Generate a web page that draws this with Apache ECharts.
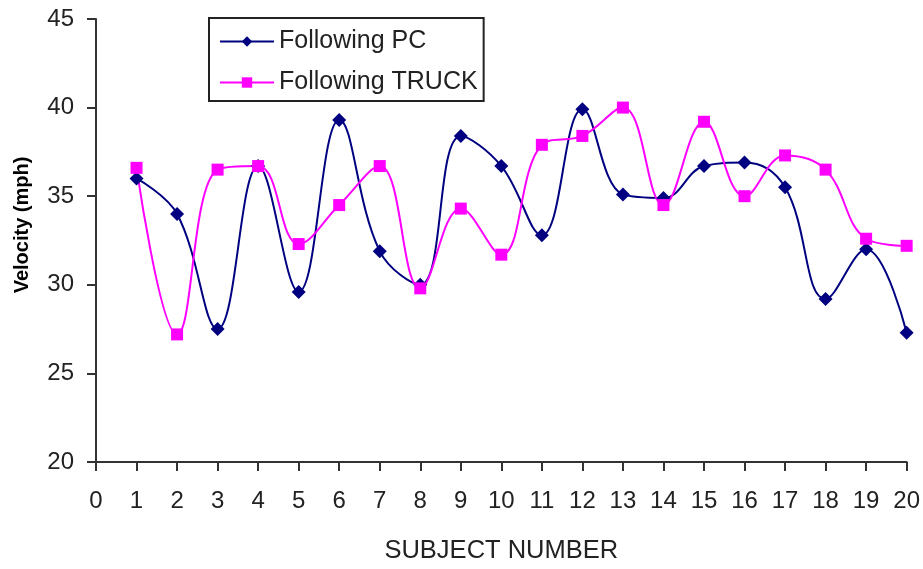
<!DOCTYPE html>
<html>
<head>
<meta charset="utf-8">
<script src="https://cdn.jsdelivr.net/npm/echarts@6/dist/echarts.min.js"></script>
<style>
html,body{margin:0;padding:0;background:#fff;}
#chart{width:923px;height:569px;}
</style>
</head>
<body>
<div id="chart"></div>
<script>
const subjects = [1,2,3,4,5,6,7,8,9,10,11,12,13,14,15,16,17,18,19,20];
const followingPC = [36.0,34.0,27.5,36.7,29.6,39.3,31.9,30.0,38.4,36.7,32.8,39.9,35.1,34.9,36.7,36.9,35.5,29.2,32.0,27.3];
const followingTruck = [36.6,27.2,36.5,36.7,32.3,34.5,36.7,29.8,34.3,31.7,37.9,38.4,40.0,34.5,39.2,35.0,37.3,36.5,32.6,32.2];
const seriesNames = ['Following PC','Following TRUCK'];
const xTitle = 'SUBJECT NUMBER';
const yTitle = 'Velocity (mph)';

const font = 'Liberation Sans, Arial, sans-serif';
const chart = echarts.init(document.getElementById('chart'), null, {renderer:'canvas'});
const axisLine = {show:true, lineStyle:{color:'#333', width:2}};
const axisTick = {show:true, inside:false, length:9, lineStyle:{color:'#333', width:2}};
chart.setOption({
  backgroundColor:'#fff',
  animation:false,
  grid:{left:96, right:15, top:19, bottom:102, containLabel:false},
  legend:{
    orient:'vertical', left:209, top:18,
    borderColor:'#222', borderWidth:2, backgroundColor:'#fff',
    padding:[11,6,6,10], itemGap:16, itemWidth:54, itemHeight:13,
    textStyle:{fontFamily:font, fontSize:25, color:'#222'},
    data:seriesNames
  },
  xAxis:{
    type:'value', min:0, max:20, interval:1,
    name:xTitle, nameLocation:'middle', nameGap:76,
    nameTextStyle:{fontFamily:font, fontSize:25.5, color:'#222'},
    axisLine, axisTick, splitLine:{show:false},
    axisLabel:{fontFamily:font, fontSize:24, color:'#222', margin:27}
  },
  yAxis:{
    type:'value', min:20, max:45, interval:5,
    axisLine, axisTick, splitLine:{show:false},
    axisLabel:{fontFamily:font, fontSize:24, color:'#222', margin:22}
  },
  graphic:[{
    type:'text', x:22, y:225, rotation:Math.PI/2,
    style:{text:yTitle, font:'bold 20px ' + font, fill:'#000', textAlign:'center', textVerticalAlign:'middle'}
  }],
  series:[
    {
      name:seriesNames[0], type:'line', smooth:0.4,
      data:subjects.map((s,i)=>[s, followingPC[i]]),
      symbol:'diamond', symbolSize:14,
      itemStyle:{color:'#000080'},
      lineStyle:{color:'#000080', width:2}
    },
    {
      name:seriesNames[1], type:'line', smooth:0.4,
      data:subjects.map((s,i)=>[s, followingTruck[i]]),
      symbol:'rect', symbolSize:12,
      itemStyle:{color:'#ff00ff'},
      lineStyle:{color:'#ff00ff', width:2}
    }
  ]
});
</script>
</body>
</html>
